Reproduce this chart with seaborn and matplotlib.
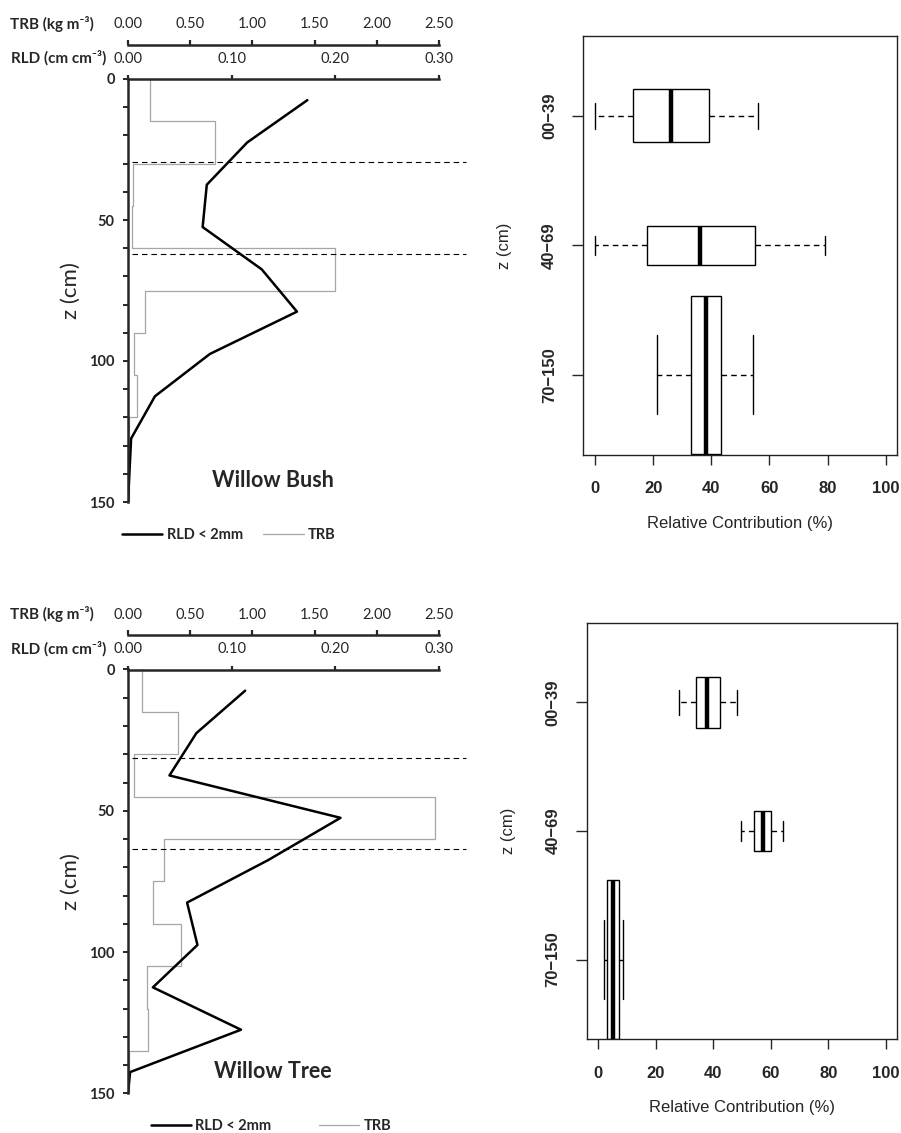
import numpy as np
import pandas as pd
import seaborn as sns
import matplotlib.pyplot as plt
from matplotlib.lines import Line2D
from matplotlib.ticker import MultipleLocator

# ---- root profiles (left panels) ----
rld_depth = [7.5, 22.5, 37.5, 52.5, 67.5, 82.5, 97.5, 112.5, 127.5, 142.5, 150]
bush_rld = [0.173, 0.115, 0.076, 0.072, 0.129, 0.163, 0.079, 0.026, 0.003, 0.001, 0.0]
tree_rld = [0.113, 0.066, 0.040, 0.205, 0.135, 0.057, 0.067, 0.024, 0.109, 0.002, 0.0]

trb_depth = [0, 15, 30, 45, 60, 75, 90, 105, 120, 135, 150]
bush_trb = [0.18, 0.70, 0.04, 0.03, 1.66, 0.14, 0.05, 0.075, 0.01, 0.01, 0.01]
tree_trb = [0.11, 0.40, 0.05, 2.47, 0.29, 0.20, 0.43, 0.15, 0.16, 0.01, 0.01]

bush_layers = [29.5, 62.0]
tree_layers = [31.5, 63.5]

# ---- relative contribution boxplots (right panels) ----
groups = ['00\u221239', '40\u221269', '70\u2212150']
bush_min = [0.0, 0.0, 21.3]
bush_q1 = [13.0, 18.0, 32.9]
bush_med = [26.2, 36.1, 38.1]
bush_q3 = [39.4, 55.0, 43.2]
bush_max = [56.2, 79.1, 54.4]

tree_min = [28.2, 49.8, 1.9]
tree_q1 = [33.9, 54.2, 2.9]
tree_med = [37.9, 57.2, 5.2]
tree_q3 = [42.2, 60.1, 7.3]
tree_max = [48.1, 64.2, 8.5]

# box widths (varwidth style)
bush_widths = [0.41, 0.30, 1.22]
tree_widths = [0.40, 0.31, 1.24]

sns.set_theme(style='white')
plt.rcParams['font.family'] = ['Lato', 'DejaVu Sans']
R_FONT = ['Liberation Sans', 'DejaVu Sans']
TRB_COL = '#a6a6a6'


def profile_panel(fig, rect, rld, trb, layers, name, leg_xy, colspace):
	ax = fig.add_axes(rect)
	ax2 = ax.twiny()
	sns.lineplot(x=trb, y=trb_depth, sort=False, estimator=None, drawstyle='steps-pre',
				 color=TRB_COL, linewidth=0.9, ax=ax2)
	sns.lineplot(x=rld, y=rld_depth, sort=False, estimator=None, color='black',
				 linewidth=1.8, ax=ax)
	ax.set_zorder(ax2.get_zorder() + 1)
	ax.patch.set_visible(False)

	ax.set_xlim(0, 0.3)
	ax2.set_xlim(0, 2.5)
	ax.set_ylim(150, 0)
	ax.set_xlabel('')
	ax2.set_xlabel('')

	# layer boundaries
	ax.hlines(layers, 0.004, 0.326, colors='black', linewidth=0.8,
			  linestyles=(0, (5, 3.5)), clip_on=False)

	for s in ['bottom', 'right']:
		ax.spines[s].set_visible(False)
		ax2.spines[s].set_visible(False)
	ax2.spines['left'].set_visible(False)
	ax.spines['left'].set_linewidth(1.8)
	ax.spines['top'].set_linewidth(1.8)
	ax2.spines['top'].set_linewidth(1.8)
	ax2.spines['top'].set_position(('outward', 24.5))

	ax.xaxis.tick_top()
	ax.set_xticks([0, 0.1, 0.2, 0.3])
	ax.set_xticklabels(['0.00', '0.10', '0.20', '0.30'])
	ax2.set_xticks([0, 0.5, 1.0, 1.5, 2.0, 2.5])
	ax2.set_xticklabels(['0.00', '0.50', '1.00', '1.50', '2.00', '2.50'])
	ax.tick_params(axis='x', which='both', top=True, bottom=False, direction='out',
				   length=3, width=1.6, pad=6.5, labelsize=10.5)
	ax2.tick_params(axis='x', top=True, bottom=False, direction='out', length=3.5,
					width=1.6, pad=6.5, labelsize=10.5)

	ax.set_yticks([0, 50, 100, 150])
	ax.yaxis.set_minor_locator(MultipleLocator(10))
	ax.tick_params(axis='y', which='both', left=True, direction='out', length=3.5,
				   width=1.4, pad=6, labelsize=10.5)
	for lab in ax.get_yticklabels():
		lab.set_fontweight('bold')

	ax.set_ylabel('z (cm)', fontsize=16)
	ax.yaxis.set_label_coords(-0.152, 0.5)

	ax.text(0.465, 0.052, name, transform=ax.transAxes, ha='center', va='center',
			fontsize=15.5, fontweight='bold')

	# axis titles
	bb = ax.get_position()
	top = bb.y1
	fig.text(94 / 901, top + 55 / 1133, 'TRB (kg m\u207b\u00b3)', ha='right', va='center',
			 fontsize=11, fontweight='bold')
	fig.text(106 / 901, top + 21 / 1133, 'RLD (cm cm\u207b\u00b3)', ha='right', va='center',
			 fontsize=11, fontweight='bold')

	handles = [Line2D([], [], color='black', lw=1.8, label='RLD < 2mm'),
			   Line2D([], [], color=TRB_COL, lw=0.9, label='TRB')]
	fig.legend(handles=handles, loc='center', bbox_to_anchor=leg_xy, ncol=2, frameon=False,
			   prop=dict(weight='bold', size=10.5), handlelength=2.75, handletextpad=0.3,
			   columnspacing=colspace)
	return ax


def contrib_panel(fig, rect, mins, q1s, meds, q3s, maxs, widths):
	ax = fig.add_axes(rect)
	positions = [3, 2, 1]
	for pos, lo, a, m, b, hi, w in zip(positions, mins, q1s, meds, q3s, maxs, widths):
		vals = [lo, a, m, b, hi]
		sns.boxplot(x=vals, y=[pos] * 5, orient='h', native_scale=True, width=w,
					whis=(0, 100), color='white', linecolor='black', linewidth=1.0,
					fliersize=0, ax=ax,
					medianprops=dict(linewidth=3.2, color='black'),
					whiskerprops=dict(linestyle=(0, (4, 3)), linewidth=1.0))
	ax.set_xlim(-4, 104)
	ax.set_ylim(0.38, 3.62)
	ax.set_xticks([0, 20, 40, 60, 80, 100])
	ax.set_xticklabels(['0', '20', '40', '60', '80', '100'], family=R_FONT,
					   fontweight='bold', fontsize=12)
	ax.set_yticks(positions)
	ax.set_yticklabels(groups, family=R_FONT, fontweight='bold', fontsize=12,
					   rotation=90, va='center')
	ax.tick_params(axis='x', bottom=True, direction='out', length=7, width=1, pad=12)
	ax.tick_params(axis='y', left=True, direction='out', length=8, width=1, pad=11)
	for s in ax.spines.values():
		s.set_visible(True)
		s.set_color('#222222')
		s.set_linewidth(1.0)
	ax.set_xlabel('Relative Contribution (%)', family=R_FONT, fontsize=12, labelpad=14)
	ax.set_ylabel('z (cm)', family=R_FONT, fontsize=12)
	ax.yaxis.set_label_coords(-0.228, 0.5)
	return ax


fig = plt.figure(figsize=(9.01, 11.33), dpi=100)

profile_panel(fig, [128 / 901, 1 - 502 / 1133, 311 / 901, 423 / 1133],
			  bush_rld, bush_trb, bush_layers, 'Willow Bush', (229 / 901, 1 - 535 / 1133), 1.4)
profile_panel(fig, [128 / 901, 1 - 1093.3 / 1133, 311 / 901, 423.8 / 1133],
			  tree_rld, tree_trb, tree_layers, 'Willow Tree', (271 / 901, 1 - 1126 / 1133), 3.3)

contrib_panel(fig, [583.3 / 901, 1 - 455 / 1133, 314 / 901, 419.3 / 1133],
			  bush_min, bush_q1, bush_med, bush_q3, bush_max, bush_widths)
contrib_panel(fig, [586.7 / 901, 1 - 1039.3 / 1133, 310.6 / 901, 416.6 / 1133],
			  tree_min, tree_q1, tree_med, tree_q3, tree_max, tree_widths)

fig.savefig('out.png', dpi=100)
